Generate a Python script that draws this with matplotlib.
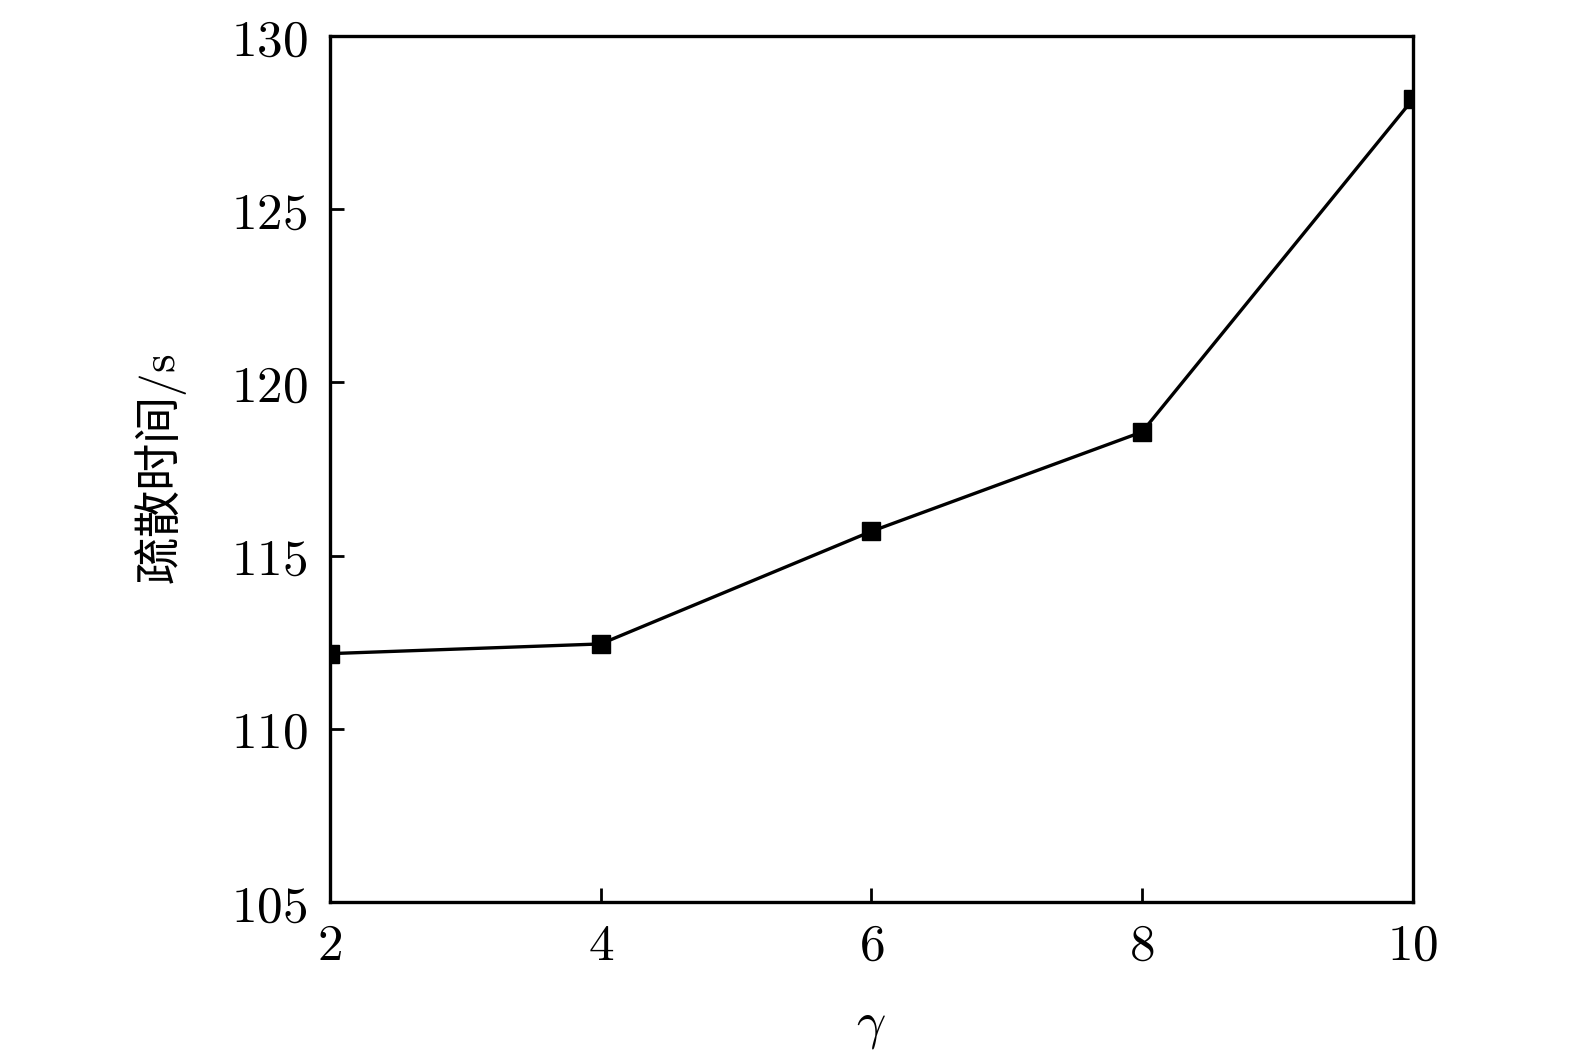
import matplotlib
matplotlib.use("Agg")
import matplotlib.pyplot as plt

gamma = [2, 4, 6, 8, 10]
disperse_time = [112.17, 112.45, 115.70, 118.57, 128.17]
xticks = [2, 4, 6, 8, 10]
yticks = [105, 110, 115, 120, 125, 130]

plt.rcParams['mathtext.fontset'] = 'cm'
plt.rcParams['font.family'] = ['DejaVu Serif']

fig = plt.figure(figsize=(15.75, 10.53), dpi=100)
ax = fig.add_axes([0.2095, 0.1434, 0.6875, 0.8224])

ax.plot(gamma, disperse_time, color='black', linewidth=2.4, marker='s',
        markersize=13.5, markerfacecolor='black', markeredgecolor='black', clip_on=True)

ax.set_xlim(2, 10)
ax.set_ylim(105, 130)
ax.set_xticks(xticks)
ax.set_yticks(yticks)
ax.set_xticklabels([f'${v}$' for v in xticks])
ax.set_yticklabels([f'${v}$' for v in yticks])
ax.tick_params(direction='in', length=10, width=2, labelsize=37, pad=16)
ax.tick_params(axis='x', pad=14)
for s in ax.spines.values():
    s.set_linewidth(2.4)

ax.set_xlabel(r'$\gamma$', fontsize=37, labelpad=22)
ax.set_ylabel(r'疏散时间$/\mathrm{s}$', fontsize=34,
              family=['Noto Sans CJK SC', 'DejaVu Sans'], labelpad=30)

fig.savefig('out.png', dpi=100)
